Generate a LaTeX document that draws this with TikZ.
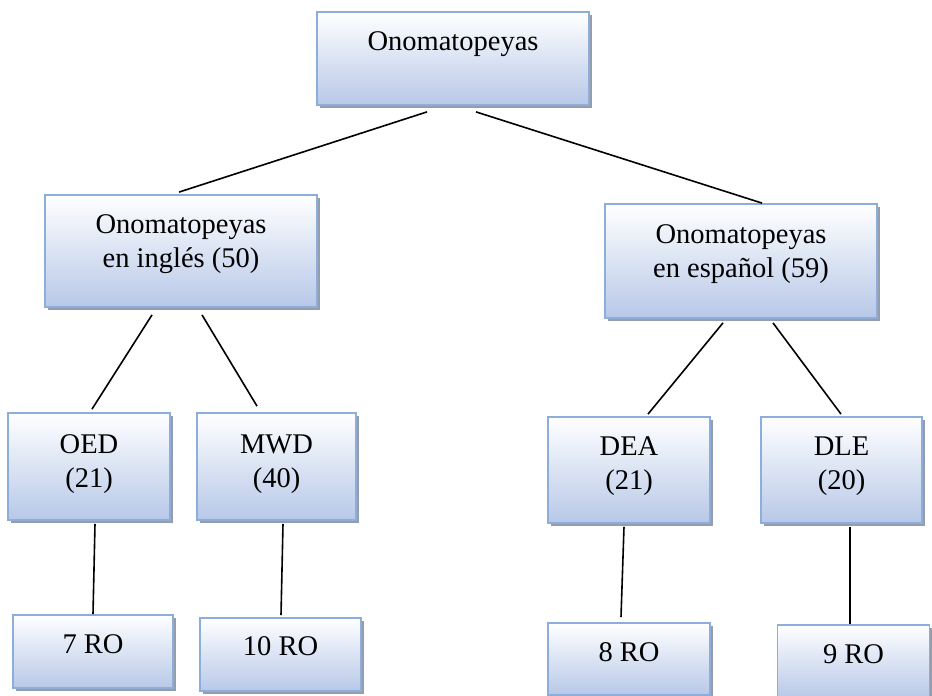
\documentclass[tikz,border=0pt]{standalone}
\usepackage{fontspec}
\setmainfont{Liberation Serif}
\usepackage{tikz}
\usetikzlibrary{calc,positioning,shadows}
\definecolor{boxline}{RGB}{141,174,219}
\definecolor{boxblue}{RGB}{183,200,232}
\definecolor{shadowgray}{RGB}{130,140,158}
\tikzstyle{onobox} = [rectangle, draw=boxline, line width=1.8pt, top color=white, bottom color=boxblue, drop shadow={shadow xshift=3pt, shadow yshift=-3pt, fill=shadowgray, opacity=0.85}, inner sep=0pt, align=center, text height=0pt, text depth=0pt, font=\fontsize{28.5}{34}\selectfont]
\tikzstyle{link}   = [black, line width=1.6pt]

\begin{document}
\begin{tikzpicture}[x=1pt, y=-1pt]
	\useasboundingbox (0,0) rectangle (932,696);
	% root
	\node[onobox, minimum width=272pt, minimum height=93pt, text depth=17pt] (root) at (453,58.5) {Onomatopeyas};
	% languages
	\node[onobox, minimum width=272pt, minimum height=112pt, text height=32pt] (eng) at (181,251) {Onomatopeyas\\en inglés (50)};
	\node[onobox, minimum width=272pt, minimum height=114pt, text height=32pt] (esp) at (741,261) {Onomatopeyas\\en español (59)};
	% dictionaries
	\node[onobox, minimum width=162pt, minimum height=107pt, text height=41pt] (oed) at (89,466.5) {OED\\(21)};
	\node[onobox, minimum width=159pt, minimum height=107pt, text height=41pt] (mwd) at (276.5,466.5) {MWD\\(40)};
	\node[onobox, minimum width=162pt, minimum height=106pt, text height=38pt] (dea) at (629,470) {DEA\\(21)};
	\node[onobox, minimum width=161pt, minimum height=106pt, text height=38pt] (dle) at (841.5,470) {DLE\\(20)};
	% RO counts
	\node[onobox, minimum width=160pt, minimum height=73pt, text height=3pt] (ro7) at (93,651.5) {7 RO};
	\node[onobox, minimum width=161pt, minimum height=73pt, text height=1pt] (ro10) at (280.5,654.5) {10 RO};
	\node[onobox, minimum width=162pt, minimum height=72pt, text height=4pt] (ro8) at (629,659) {8 RO};
	\node[onobox, minimum width=152pt, minimum height=73pt, text height=3pt] (ro9) at (853.5,661.5) {9 RO};

	\draw[link] ($(root.south)+(-26,6)$) -- ($(eng.north)+(-2,-2)$);
	\draw[link] ($(root.south)+(23,6)$) -- ($(esp.north)+(21,0)$);
	\draw[link] ($(eng.south)+(-29,7)$) -- ($(oed.north)+(3,-3)$);
	\draw[link] ($(eng.south)+(21,7)$) -- ($(mwd.north)+(-19.5,-6)$);
	\draw[link] ($(esp.south)+(-18,4)$) -- ($(dea.north)+(19,-2)$);
	\draw[link] ($(esp.south)+(32,4)$) -- ($(dle.north)+(-0.5,-2)$);
	\draw[link] ($(oed.south)+(6,3)$) -- (ro7.north);
	\draw[link] ($(mwd.south)+(6.5,3)$) -- ($(ro10.north)+(0.5,-2)$);
	\draw[link] ($(dea.south)+(-5,3)$) -- ($(ro8.north)+(-8,-5)$);
	\draw[link] ($(dle.south)+(8.5,3)$) -- ($(ro9.north)+(-3.5,0)$);
\end{tikzpicture}
\end{document}
